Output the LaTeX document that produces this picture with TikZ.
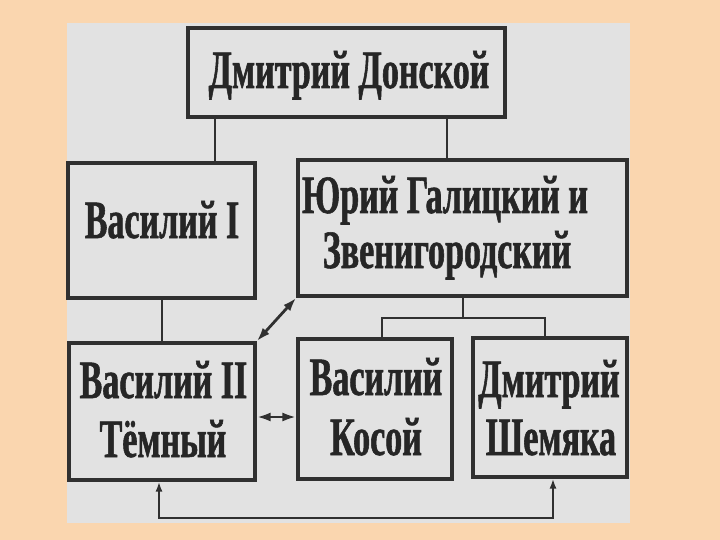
\documentclass[tikz,border=0pt]{standalone}
\usepackage{fontspec}
\setmainfont{Liberation Serif}
\newfontfamily\condfont{Liberation Serif}[FakeStretch=0.63,FakeBold=1]
\usetikzlibrary{arrows.meta}
\definecolor{peach}{RGB}{250,214,175}
\definecolor{paper}{RGB}{226,226,226}
\definecolor{ink}{RGB}{48,48,48}
\definecolor{textink}{RGB}{38,38,38}
\begin{document}
\begin{tikzpicture}[x=1pt,y=-1pt,
  box/.style={draw=ink, line width=3.2pt, fill=paper, inner sep=0pt},
  lbl/.style={font=\condfont\bfseries\fontsize{54}{54}\selectfont, text=textink, anchor=base, inner sep=0pt},
  con/.style={draw=ink, line width=2.8pt},
  dbl/.style={con, {Latex[length=14pt,width=9pt]}-{Latex[length=14pt,width=9pt]}},
  upar/.style={con, {Latex[length=10pt,width=7pt]}-{Latex[length=10pt,width=7pt]}}]
\useasboundingbox (0,0) rectangle (720,540);
\fill[peach] (0,0) rectangle (720,540);
\fill[paper] (67,23) rectangle (630,523);
% boxes
\node[box, minimum width=317pt, minimum height=89pt] (dd) at (346.5,72.5) {};
\node[box, minimum width=187pt, minimum height=135pt] (v1) at (161.5,230.5) {};
\node[box, minimum width=329pt, minimum height=136pt] (yu) at (462.5,228) {};
\node[box, minimum width=186pt, minimum height=137pt] (v2) at (162,411.5) {};
\node[box, minimum width=154pt, minimum height=140pt] (ko) at (375,409) {};
\node[box, minimum width=154pt, minimum height=139pt] (sh) at (550,407.5) {};
% labels
\node[lbl] (tdd) at (349,88) {Дмитрий Донской};
\node[lbl] (tv1) at (162,238) {Василий I};
\node[lbl] (tyu1) at (445,213) {Юрий Галицкий и};
\node[lbl] (tyu2) at (447,268) {Звенигородский};
\node[lbl] (tv2a) at (163.5,398) {Василий II};
\node[lbl] (tv2b) at (163,457) {Тёмный};
\node[lbl] (tkoa) at (376,395) {Василий};
\node[lbl] (tkob) at (376,455) {Косой};
\node[lbl] (tsha) at (549,397) {Дмитрий};
\node[lbl] (tshb) at (551,455) {Шемяка};
% helper coordinates
\coordinate (xa) at (215,0);
\coordinate (xb) at (447,0);
\coordinate (xc) at (162,0);
\coordinate (m) at (463,318);
\coordinate (kl) at (382,318);
\coordinate (kr) at (545,318);
\coordinate (h) at (0,417);
\coordinate (b1) at (159,518);
\coordinate (b2) at (553,518);
% connectors
\draw[con] (dd.south -| xa) -- (v1.north -| xa);
\draw[con] (dd.south -| xb) -- (yu.north -| xb);
\draw[con] (v1.south -| xc) -- (v2.north -| xc);
\draw[con] (yu.south -| m) -- (m);
\draw[con] (ko.north -| kl) -- (kl) -- (kr) -- (sh.north -| kr);
\draw[dbl] (v2.east |- h) -- (ko.west |- h);
\draw[dbl] (v2.north east) -- (yu.south west);
\draw[upar] (v2.south -| b1) -- (b1) -- (b2) -- (sh.south -| b2);
\end{tikzpicture}
\end{document}
